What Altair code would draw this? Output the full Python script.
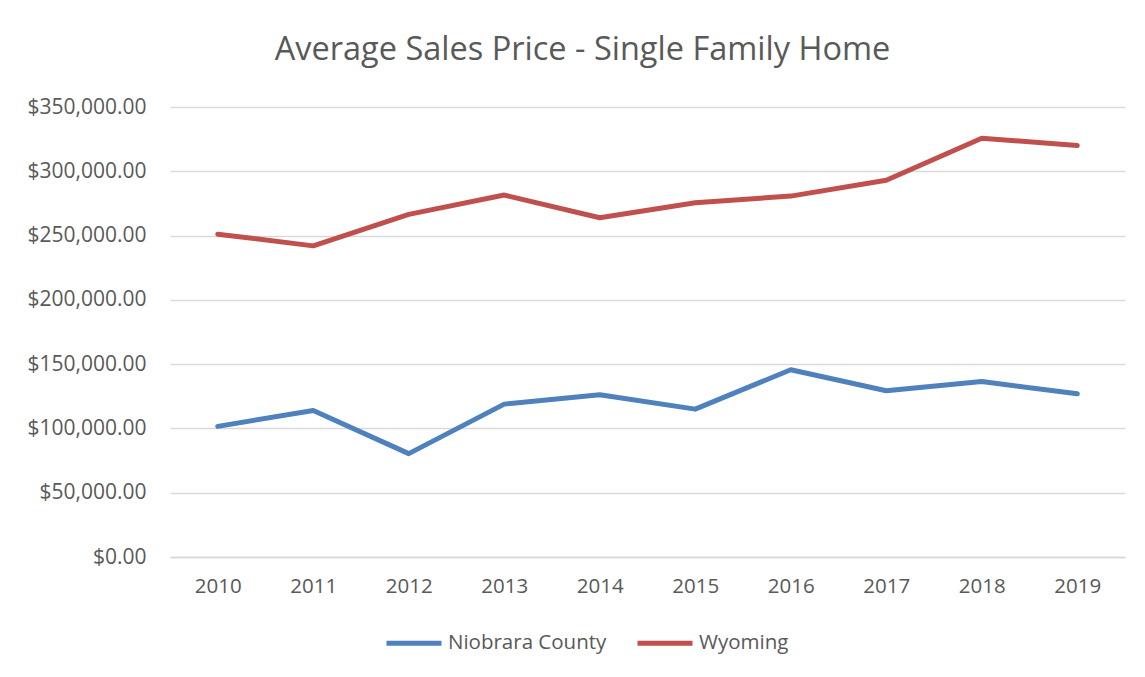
import altair as alt
import pandas as pd

years = ["2010", "2011", "2012", "2013", "2014", "2015", "2016", "2017", "2018", "2019"]
niobrara = [101600, 114000, 80400, 118900, 126200, 115000, 145600, 129300, 136500, 126900]
wyoming = [251100, 242000, 266500, 281500, 263900, 275500, 280700, 293000, 325700, 320100]
series_names = ["Niobrara County", "Wyoming"]
series_colors = ["#4f81bd", "#c0504d"]
y_ticks = [0, 50000, 100000, 150000, 200000, 250000, 300000, 350000]

rows = []
for name, vals in zip(series_names, [niobrara, wyoming]):
    for yr, v in zip(years, vals):
        rows.append({"Year": yr, "Price": v, "Series": name})
df = pd.DataFrame(rows)

FONT = "Open Sans"
GREY = "#595959"

chart = alt.Chart(df).mark_line(strokeWidth=5, strokeCap="round", strokeJoin="round").encode(
    x=alt.X("Year:O", sort=years, scale=alt.Scale(type="point", padding=0.5),
            axis=alt.Axis(title=None, labelAngle=0, labelFontSize=20.5, labelColor=GREY, labelFont=FONT,
                          ticks=False, labelPadding=19, domainColor="#d9d9d9", domainWidth=1.5, grid=False)),
    y=alt.Y("Price:Q", scale=alt.Scale(domain=[0, 350000], nice=False),
            axis=alt.Axis(title=None, values=y_ticks, format="$,.2f", labelFontSize=21, labelColor=GREY,
                          labelFont=FONT, ticks=False, domain=False, labelPadding=24,
                          gridColor="#d9d9d9", gridWidth=1.5)),
    color=alt.Color("Series:N", sort=series_names,
                    scale=alt.Scale(domain=series_names, range=series_colors),
                    legend=alt.Legend(title=None, orient="none", direction="horizontal",
                                      legendX=214, legendY=506, symbolType="stroke",
                                      symbolSize=3025, symbolStrokeWidth=5, labelFontSize=20.5,
                                      labelColor=GREY, labelFont=FONT, columnPadding=20,
                                      labelOffset=4)),
).properties(
    width=955,
    height=450,
    background="white",
    title=alt.TitleParams("Average Sales Price - Single Family Home", fontSize=32.5, font=FONT,
                          fontWeight="normal", color=GREY, anchor="middle", dx=-65, offset=30),
    autosize=alt.AutoSizeParams(type="none"),
    padding={"left": 162, "top": 99, "right": 12, "bottom": 112},
).configure_view(stroke=None)

chart.save("out.html", embed_options={"renderer": "svg", "actions": False})
